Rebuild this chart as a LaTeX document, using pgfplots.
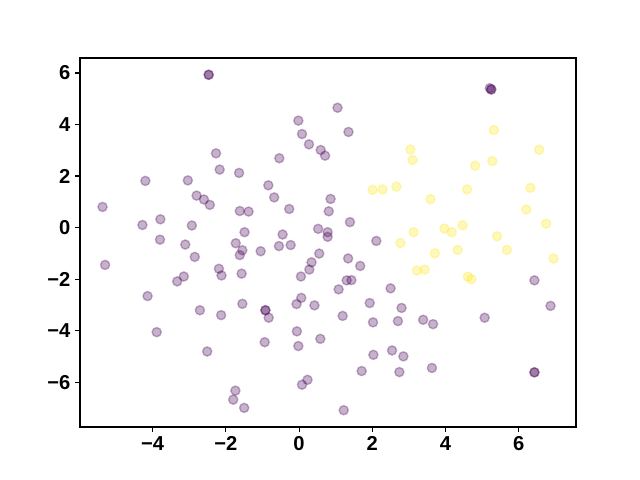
\documentclass[border=0pt]{standalone}
\usepackage{fontspec}
\setmainfont{Liberation Sans}
\usepackage{pgfplots}
\pgfplotsset{compat=1.18}
\definecolor{vpurple}{HTML}{440154}
\definecolor{vyellow}{HTML}{FDE725}
\begin{document}
\begin{tikzpicture}
\begin{axis}[name=ax, scale only axis, width=357.12pt, height=265.68pt,
  xmin=-5.986, xmax=7.566, ymin=-7.741, ymax=6.581,
  xtick={-4,-2,0,2,4,6}, xticklabels={−4,−2,0,2,4,6},
  ytick={-6,-4,-2,0,2,4,6}, yticklabels={−6,−4,−2,0,2,4,6},
  tick label style={font=\fontsize{14.5pt}{16pt}\selectfont\bfseries},
  tick align=outside, major tick length=3.5pt,
  tick style={line width=0.8pt, black},
  axis line style={line width=0.8pt},
  tick pos=left,
  clip=false]
\addplot[only marks, mark=*, mark size=3.3pt,
  mark options={fill=vpurple, draw=vpurple, line width=1pt, opacity=0.3}] table {
x y
-2.47 5.93
-2.47 5.93
-2.27 2.88
-2.17 2.25
-1.64 2.12
-4.20 1.81
-3.04 1.83
-2.80 1.24
-2.60 1.09
-2.44 0.88
-5.37 0.80
-1.62 0.64
-1.38 0.62
-4.28 0.10
-3.79 0.32
-2.93 0.08
-1.49 -0.18
-3.80 -0.47
-3.11 -0.66
-1.73 -0.61
1.05 4.65
-0.02 4.15
1.35 3.71
0.08 3.63
0.27 3.23
0.59 3.01
0.71 2.79
-0.54 2.69
-0.84 1.64
-0.68 1.17
-0.27 0.72
0.86 1.11
0.81 0.63
1.39 0.21
-0.45 -0.27
0.52 -0.05
0.78 -0.18
0.78 -0.36
-0.55 -0.72
-0.23 -0.68
2.11 -0.52
5.21 5.41
5.25 5.36
5.25 5.36
6.43 -2.05
6.87 -3.04
2.80 -3.12
3.39 -3.58
3.66 -3.75
5.07 -3.50
2.85 -5.00
2.74 -5.61
3.63 -5.45
6.43 -5.62
6.43 -5.62
-1.55 -0.88
-1.62 -1.07
-1.05 -0.92
0.55 -1.01
0.34 -1.35
0.28 -1.63
0.05 -1.90
-1.57 -1.79
1.34 -1.20
1.67 -1.49
1.30 -2.05
1.43 -2.04
1.08 -2.40
2.50 -2.36
-1.55 -2.96
-0.92 -3.21
-0.92 -3.21
-0.83 -3.50
0.06 -2.73
-0.07 -2.97
0.42 -3.02
1.93 -2.93
1.19 -3.43
2.02 -3.68
2.70 -3.63
-0.06 -4.03
-0.94 -4.45
-0.02 -4.60
0.58 -4.32
2.03 -4.94
2.54 -4.77
1.71 -5.57
0.23 -5.91
0.08 -6.10
-1.50 -7.00
1.22 -7.09
-2.85 -1.14
-5.30 -1.45
-2.19 -1.60
-2.12 -1.86
-3.15 -1.90
-3.33 -2.09
-4.14 -2.66
-2.71 -3.21
-2.13 -3.40
-3.89 -4.06
-2.51 -4.81
-1.74 -6.33
-1.80 -6.68
};
\addplot[only marks, mark=*, mark size=3.3pt,
  mark options={fill=vyellow, draw=vyellow, line width=1pt, opacity=0.3}] table {
x y
2.01 1.46
2.28 1.48
2.66 1.59
3.04 3.03
3.10 2.62
2.77 -0.60
3.13 -0.18
5.32 3.78
6.56 3.02
4.81 2.40
5.28 2.58
4.59 1.48
6.32 1.54
3.59 1.10
6.21 0.70
6.75 0.15
3.97 -0.04
4.17 -0.18
4.47 0.09
5.41 -0.34
3.71 -1.00
4.33 -0.87
5.68 -0.87
6.95 -1.20
3.22 -1.67
3.43 -1.63
4.61 -1.91
4.71 -2.00
};
\end{axis}
\path[use as bounding box] ([xshift=-57.6pt,yshift=-38.16pt]ax.south west) rectangle ([xshift=46.08pt,yshift=41.76pt]ax.north east);
\end{tikzpicture}
\end{document}
